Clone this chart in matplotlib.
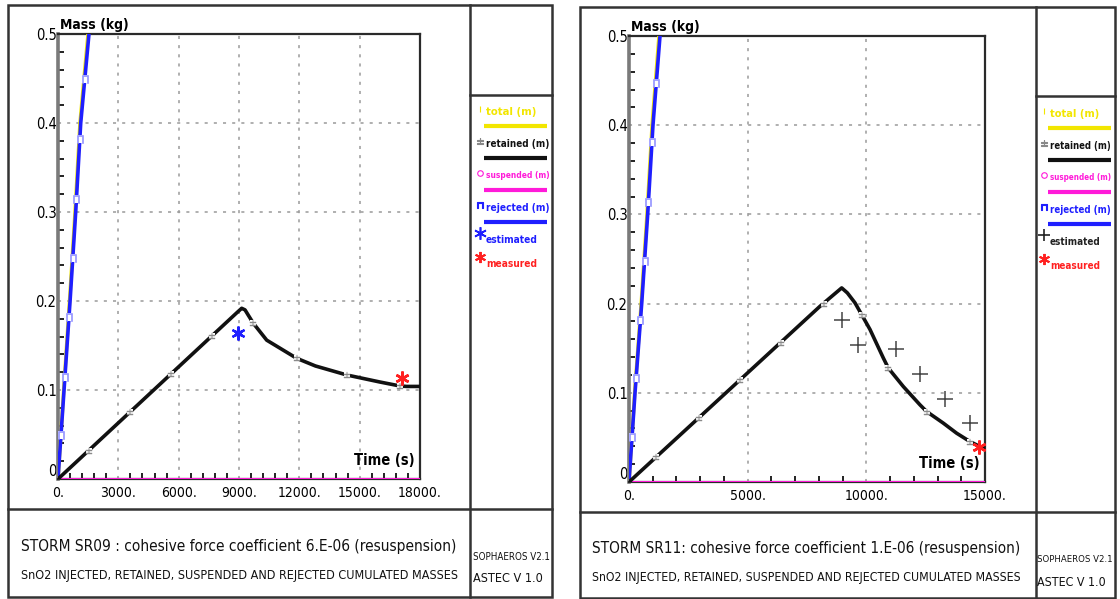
import matplotlib
matplotlib.use('Agg')
import matplotlib.pyplot as plt
from matplotlib.patches import Rectangle
from matplotlib.ticker import MultipleLocator

# SR09 run (left sheet)
rej09_t = [0, 300, 600, 880, 1130, 1540, 1800]
rej09_m = [0, 0.10, 0.20, 0.30, 0.40, 0.50, 0.56]
tot09_t = [0, 285, 575, 850, 1095, 1495, 1750]
tot09_m = [0, 0.10, 0.20, 0.30, 0.40, 0.50, 0.56]
ret09_t = [0, 8900, 9134, 9300, 9463, 9711, 10378, 11870, 12800, 14356, 16000, 17006, 17337, 18000]
ret09_m = [0, 0.187, 0.1918, 0.190, 0.184, 0.175, 0.156, 0.1356, 0.127, 0.1169, 0.109, 0.1045, 0.104, 0.104]
sus09_t = [0, 18000]
sus09_m = [0, 0]
ret09_mk_t = [1540, 3580, 5630, 7660, 9711, 11870, 14356, 17006]
ret09_mk_m = [0.032, 0.075, 0.118, 0.161, 0.175, 0.1356, 0.1169, 0.1045]
rej09_mk_t = [150, 345, 546, 735, 918, 1085, 1335]
rej09_mk_m = [0.05, 0.115, 0.182, 0.248, 0.315, 0.382, 0.45]
est09_t = [8966]
est09_m = [0.164]
meas09_t = [17090]
meas09_m = [0.113]

# SR11 run (right sheet)
rej11_t = [0, 253, 535, 787, 1010, 1306, 1600]
rej11_m = [0, 0.10, 0.20, 0.30, 0.40, 0.50, 0.56]
tot11_t = [0, 240, 515, 760, 975, 1265, 1560]
tot11_m = [0, 0.10, 0.20, 0.30, 0.40, 0.50, 0.56]
ret11_t = [0, 8048, 8962, 9200, 9523, 9804, 10154, 10716, 10927, 11559, 12261, 12542,
           13243, 13805, 14368, 14789, 15000]
ret11_m = [0, 0.197, 0.2176, 0.212, 0.2008, 0.1876, 0.171, 0.139, 0.1277, 0.107, 0.0865, 0.079,
           0.066, 0.0547, 0.0453, 0.0397, 0.037]
sus11_t = [0, 15000]
sus11_m = [0, 0]
ret11_mk_t = [1140, 2950, 4680, 6400, 8220, 9804, 10927, 12542, 14368]
ret11_mk_m = [0.028, 0.072, 0.114, 0.156, 0.199, 0.1876, 0.1277, 0.079, 0.0453]
rej11_mk_t = [129, 301, 484, 656, 818, 968, 1149]
rej11_mk_m = [0.051, 0.117, 0.182, 0.248, 0.314, 0.381, 0.447]
est11_t = [8962, 9663, 11250, 12261, 13315, 14368]
est11_m = [0.182, 0.154, 0.149, 0.121, 0.093, 0.0667]
meas11_t = [14760]
meas11_m = [0.0397]

y_ticks = [0, 0.1, 0.2, 0.3, 0.4, 0.5]
y_labels = ['0', '0.1', '0.2', '0.3', '0.4', '0.5']
x09_ticks = [0, 3000, 6000, 9000, 12000, 15000, 18000]
x11_ticks = [0, 5000, 10000, 15000]

legend_names = ['total (m)', 'retained (m)', 'suspended (m)', 'rejected (m)']

title09 = 'STORM SR09 : cohesive force coefficient 6.E-06 (resuspension)'
title11 = 'STORM SR11: cohesive force coefficient 1.E-06 (resuspension)'
subtitle = 'SnO2 INJECTED, RETAINED, SUSPENDED AND REJECTED CUMULATED MASSES'
code_lines = ['SOPHAEROS V2.1', 'ASTEC V 1.0']

YELLOW = '#f2e600'
BLACK = '#111111'
MAGENTA = '#ff1ad9'
BLUE = '#1f1fff'
LBLUE = '#8c8cff'
RED = '#ff2020'
FRAME = '#333333'
FONT = dict(family='DejaVu Sans', fontstretch='condensed')
W, H = 1120, 599

fig = plt.figure(figsize=(W / 100, H / 100), dpi=100)
fig.patch.set_facecolor('white')
renderer = fig.canvas.get_renderer()

# page layer in pixel units, y pointing down
page = fig.add_axes([0, 0, 1, 1])
page.set_xlim(0, W)
page.set_ylim(H, 0)
page.axis('off')


def fit_text(ax, x, y, s, width, size=10, **kw):
    t = ax.text(x, y, s, fontsize=size, **FONT, **kw)
    w = t.get_window_extent(renderer).width
    if w > 0:
        t.set_fontsize(size * width / w)
    return t


def sheet(x0, x1, y0, y1, xdiv, ydiv, yleg):
    page.add_patch(Rectangle((x0, y0), x1 - x0, y1 - y0, fill=False, ec=FRAME, lw=1.8))
    page.plot([xdiv, xdiv], [y0, y1], color=FRAME, lw=1.8)
    page.plot([x0, x1], [ydiv, ydiv], color=FRAME, lw=1.8)
    page.plot([xdiv, x1], [yleg, yleg], color=FRAME, lw=1.8)


def legend(x, y, est_color, est_marker, ref_width, x_right):
    colors = [YELLOW, BLACK, MAGENTA, BLUE]
    symbols = ['|', r'$\pm$', 'o', r'$\sqcap$']
    sym_colors = [YELLOW, '#888888', MAGENTA, BLUE]
    # one font size for the block, set from the "rejected (m)" entry
    probe = fit_text(page, x, y, legend_names[3], ref_width)
    size = probe.get_fontsize()
    probe.remove()
    room = x_right - x - 2
    for i, name in enumerate(legend_names):
        ty = y + i * 32
        page.plot(x - 6, ty - 3, marker=symbols[i], color=sym_colors[i], ms=4,
                  mfc='none', mew=0.8)
        t = page.text(x, ty, name, fontsize=size, color=colors[i], weight='bold',
                      va='center', ha='left', **FONT)
        w = t.get_window_extent(renderer).width
        if w > room:
            t.set_fontsize(size * room / w)
        page.plot([x - 2, x + 61], [ty + 14, ty + 14], color=colors[i], lw=3,
                  solid_capstyle='butt')
    page.plot(x - 6, y + 121, marker=est_marker, color=est_color, ms=9, mew=1.2)
    page.text(x, y + 128, 'estimated', fontsize=size * 0.9, color=est_color,
              weight='bold', va='center', ha='left', **FONT)
    page.plot(x - 6, y + 145, marker=(6, 2, 0), color=RED, ms=8, mew=1.4)
    page.text(x, y + 152, 'measured', fontsize=size * 0.9, color=RED,
              weight='bold', va='center', ha='left', **FONT)


def panel(rect, xmax, xticks, xminor, tot, rej, ret, sus, rej_mk, ret_mk):
    ax = fig.add_axes([rect[0] / W, 1 - rect[3] / H, (rect[2] - rect[0]) / W,
                       (rect[3] - rect[1]) / H])
    ax.set_xlim(0, xmax)
    ax.set_ylim(0, 0.5)
    ax.set_yticks(y_ticks)
    ax.set_yticklabels(y_labels, fontsize=10.5, **FONT)
    ax.set_xticks(xticks)
    ax.set_xticklabels([f'{v}.' for v in xticks], fontsize=10, **FONT)
    ax.yaxis.set_minor_locator(MultipleLocator(0.02))
    ax.xaxis.set_minor_locator(MultipleLocator(xminor))
    ax.tick_params(which='major', length=0)
    ax.tick_params(axis='y', which='major', pad=1)
    ax.tick_params(axis='x', which='major', pad=5)
    ax.tick_params(which='minor', direction='in', length=4, width=1.4, color='#222222')
    ax.grid(True, which='major', ls=(0, (2, 4)), color='#9a9a9a', lw=1.1)
    for side in ['top', 'right', 'bottom']:
        ax.spines[side].set_color('#2a2a2a')
        ax.spines[side].set_linewidth(1.6)
    ax.spines['left'].set_color('#7a7a7a')
    ax.spines['left'].set_linewidth(2.6)
    # lift the "0" of the mass axis off the corner
    ax.get_yticklabels()[0].set_va('bottom')

    ax.plot(sus[0], sus[1], color=MAGENTA, lw=2.2, zorder=3)
    ax.plot(tot[0], tot[1], color=YELLOW, lw=2.6, zorder=3)
    ax.plot(rej[0], rej[1], color=BLUE, lw=2.6, zorder=4)
    ax.plot(ret[0], ret[1], color=BLACK, lw=2.6, zorder=4)
    # gaps in the curves where the curve symbols sit
    ax.scatter(rej_mk[0], rej_mk[1], marker='s', s=36, color='white', zorder=5, lw=0)
    ax.scatter(rej_mk[0], rej_mk[1], marker=r'$\sqcap$', s=30, color=LBLUE, zorder=6, lw=0.4)
    ax.scatter(ret_mk[0], ret_mk[1], marker='s', s=22, color='white', zorder=5, lw=0)
    ax.scatter(ret_mk[0], ret_mk[1], marker=r'$\pm$', s=22, color='#8a8a8a', zorder=6, lw=0.3)
    ax.text(0.005, 1.005, 'Mass (kg)', transform=ax.transAxes, fontsize=10,
            weight='bold', ha='left', va='bottom', **FONT)
    ax.text(0.985, 0.025, 'Time (s)', transform=ax.transAxes, fontsize=10.5,
            weight='bold', ha='right', va='bottom', **FONT)
    return ax


# left sheet
sheet(8, 552, 5, 597, 470, 509, 95)
ax1 = panel((58, 34, 420, 479), 18000, x09_ticks, 600,
            (tot09_t, tot09_m), (rej09_t, rej09_m), (ret09_t, ret09_m),
            (sus09_t, sus09_m), (rej09_mk_t, rej09_mk_m), (ret09_mk_t, ret09_mk_m))
ax1.plot(est09_t, est09_m, ls='none', marker=(6, 2, 0), ms=10, mew=1.6, color=BLUE, zorder=7)
ax1.plot(est09_t, est09_m, ls='none', marker='o', ms=4, color=BLUE, zorder=7)
ax1.plot(meas09_t, meas09_m, ls='none', marker=(6, 2, 0), ms=10, mew=1.8, color=RED, zorder=7)
legend(486, 112, BLUE, (6, 2, 0), 63, 551)
fit_text(page, 21, 547, title09, 436, va='center', ha='left', color='#111111')
fit_text(page, 21, 576, subtitle, 436, va='center', ha='left', color='#111111')
fit_text(page, 473, 557, code_lines[0], 77, va='center', ha='left', color='#111111')
fit_text(page, 473, 579, code_lines[1], 70, va='center', ha='left', color='#111111')

# right sheet
sheet(580, 1115, 7, 598, 1036, 512, 96)
ax2 = panel((629, 36, 985, 482), 15000, x11_ticks, 1000,
            (tot11_t, tot11_m), (rej11_t, rej11_m), (ret11_t, ret11_m),
            (sus11_t, sus11_m), (rej11_mk_t, rej11_mk_m), (ret11_mk_t, ret11_mk_m))
ax2.plot(est11_t, est11_m, ls='none', marker='+', ms=12, mew=1.1, color='#444444', zorder=7)
ax2.plot(meas11_t, meas11_m, ls='none', marker=(6, 2, 0), ms=10, mew=1.8, color=RED,
         zorder=7, clip_on=False)
legend(1050, 114, '#222222', '+', 61, 1113)
fit_text(page, 592, 548, title11, 430, va='center', ha='left', color='#111111')
fit_text(page, 592, 578, subtitle, 430, va='center', ha='left', color='#111111')
fit_text(page, 1037, 560, code_lines[0], 75, va='center', ha='left', color='#111111')
fit_text(page, 1037, 583, code_lines[1], 69, va='center', ha='left', color='#111111')

fig.savefig('out.png', dpi=100)
